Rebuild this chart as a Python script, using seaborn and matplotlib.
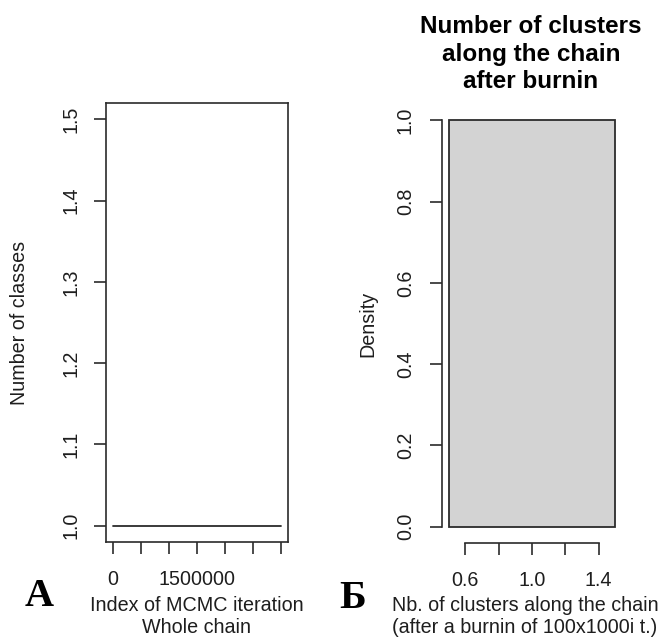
import matplotlib
matplotlib.use("Agg")
import matplotlib.pyplot as plt
import numpy as np
import pandas as pd
import seaborn as sns

# ---- data ----
iterations = [1, 3000000]            # MCMC iteration index (whole chain)
n_classes = [1, 1]                   # number of classes along the chain
clusters_after_burnin = [1, 1, 1, 1, 1, 1, 1, 1, 1, 1]  # nb of clusters after burnin
hist_breaks = [0.5, 1.5]

left_xticks = [0, 500000, 1000000, 1500000, 2000000, 2500000, 3000000]
left_xticklabels = ["0", "", "", "1500000", "", "", ""]
left_yticks = [1.0, 1.1, 1.2, 1.3, 1.4, 1.5]
left_yticklabels = ["1.0", "1.1", "1.2", "1.3", "1.4", "1.5"]
right_xticks = [0.6, 0.8, 1.0, 1.2, 1.4]
right_xticklabels = ["0.6", "", "1.0", "", "1.4"]
right_yticks = [0.0, 0.2, 0.4, 0.6, 0.8, 1.0]
right_yticklabels = ["0.0", "0.2", "0.4", "0.6", "0.8", "1.0"]

sns.set_theme(style="white")
plt.rcParams["font.family"] = ["Liberation Sans", "DejaVu Sans"]

W, H = 665, 642
fig = plt.figure(figsize=(W / 100, H / 100), dpi=100)


def rect(x0, y0, x1, y1):
    return [x0 / W, 1 - y1 / H, (x1 - x0) / W, (y1 - y0) / H]


LC = "#2b2b2b"
TC = "#1e1e1e"
FS = 14.2

ax1 = fig.add_axes(rect(106, 103, 288, 542))
ax2 = fig.add_axes(rect(442, 104, 622, 543))

# ---- left panel: trace ----
trace = pd.DataFrame({"iteration": iterations, "classes": n_classes})
sns.lineplot(data=trace, x="iteration", y="classes", color=LC, linewidth=1.3, ax=ax1)
ax1.set_xlim(-120000, 3120000)
ax1.set_ylim(0.98, 1.52)
ax1.set_xticks(left_xticks)
ax1.set_xticklabels(left_xticklabels)
ax1.set_yticks(left_yticks)
ax1.set_yticklabels(left_yticklabels, rotation=90, va="center")
for s in ax1.spines.values():
    s.set_visible(True)
    s.set_color(LC)
    s.set_linewidth(1.2)
ax1.tick_params(axis="both", direction="out", length=8.5, width=1.2, colors=LC,
                labelcolor=TC, labelsize=FS, bottom=True, left=True)
ax1.tick_params(axis="x", pad=12)
ax1.tick_params(axis="y", pad=10)
ax1.set_xlabel("Index of MCMC iteration\nWhole chain", fontsize=FS, color=TC,
               linespacing=1.15)
ax1.xaxis.set_label_coords(0.5, (542 - 616.5) / 439)
ax1.xaxis.label.set_va("center")
ax1.set_ylabel("Number of classes", fontsize=FS, color=TC)
ax1.yaxis.set_label_coords((20 - 106) / 182, 0.5)
ax1.yaxis.label.set_va("center")

# ---- right panel: histogram ----
hist_df = pd.DataFrame({"clusters": clusters_after_burnin})
sns.histplot(data=hist_df, x="clusters", bins=hist_breaks, stat="density",
             color="#d3d3d3", edgecolor=LC, linewidth=1.3, alpha=1, ax=ax2)
ax2.set_xlim(0.46, 1.54)
ax2.set_ylim(-0.04, 1.04)
ax2.set_xticks(right_xticks)
ax2.set_xticklabels(right_xticklabels)
ax2.set_yticks(right_yticks)
ax2.set_yticklabels(right_yticklabels, rotation=90, va="center")
ax2.spines["top"].set_visible(False)
ax2.spines["right"].set_visible(False)
for k in ("left", "bottom"):
    ax2.spines[k].set_visible(True)
    ax2.spines[k].set_color(LC)
    ax2.spines[k].set_linewidth(1.2)
ax2.spines["left"].set_bounds(0.0, 1.0)
ax2.spines["bottom"].set_bounds(0.6, 1.4)
ax2.tick_params(axis="both", direction="out", length=8.5, width=1.2, colors=LC,
                labelcolor=TC, labelsize=FS, bottom=True, left=True)
ax2.tick_params(axis="x", pad=12)
ax2.tick_params(axis="y", pad=11)
ax2.set_xlabel("Nb. of clusters along the chain\n(after a burnin of 100x1000i t.)",
               fontsize=FS, color=TC, linespacing=1.15)
ax2.xaxis.set_label_coords((525 - 442) / 180, (543 - 616.5) / 439)
ax2.xaxis.label.set_va("center")
ax2.set_ylabel("Density", fontsize=FS, color=TC)
ax2.yaxis.set_label_coords((368 - 442) / 180, 0.5)
ax2.yaxis.label.set_va("center")

fig.text(531 / W, 1 - 54 / H, "Number of clusters\nalong the chain\nafter burnin",
         ha="center", va="center", fontsize=17.5, fontweight="bold", color="black",
         linespacing=1.25)

# panel letters
fig.text(39 / W, 1 - 596 / H, "А", ha="center", va="center", fontsize=29,
         fontweight="bold", family=["Liberation Serif", "DejaVu Serif"], color="black")
fig.text(353 / W, 1 - 598 / H, "Б", ha="center", va="center", fontsize=29,
         fontweight="bold", family=["Liberation Serif", "DejaVu Serif"], color="black")

fig.savefig("out.png", dpi=100, facecolor="white")
